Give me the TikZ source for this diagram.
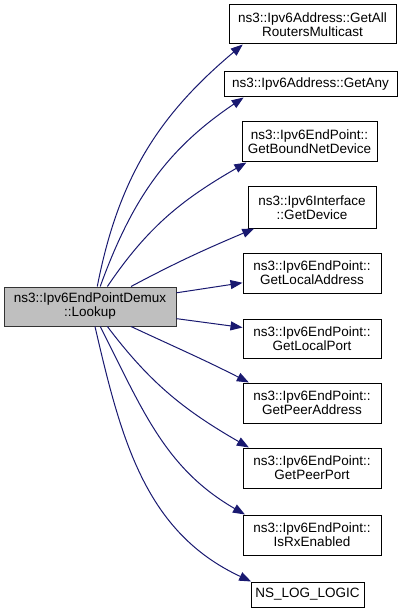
\documentclass[tikz,border=0pt]{standalone}
\usepackage{fontspec}
\setmainfont{Liberation Sans}
\usetikzlibrary{arrows.meta}
\definecolor{edgeblue}{HTML}{191970}
\definecolor{lookgray}{HTML}{BFBFBF}
\tikzset{
  fn/.style={draw=black,fill=white,line width=1pt,inner sep=0pt,align=center,
    minimum height=40pt,font=\fontsize{13.5}{14}\selectfont},
  call/.style={draw=edgeblue,line width=1pt,-{Triangle[length=12pt,width=9pt]}}
}
\begin{document}
\begin{tikzpicture}[x=1pt,y=-1pt]
\useasboundingbox (0,0) rectangle (405,612);
\node[fn,fill=lookgray,draw=black!80,minimum width=172pt,minimum height=39pt] (look) at (90,306.5)
  {ns3::Ipv6EndPointDemux\\::Lookup};
\node[fn,minimum width=167pt,minimum height=39pt] (allrm) at (312.5,24.5) {ns3::Ipv6Address::GetAll\\RoutersMulticast};
\node[fn,minimum width=173pt,minimum height=25pt] (any) at (310.5,84.5) {ns3::Ipv6Address::GetAny};
\node[fn,minimum width=135pt] (bound) at (309.5,142) {ns3::Ipv6EndPoint::\\GetBoundNetDevice};
\node[fn,minimum width=128pt,minimum height=41pt] (dev) at (312,207.5) {ns3::Ipv6Interface\\::GetDevice};
\node[fn,minimum width=138pt] (laddr) at (312,273) {ns3::Ipv6EndPoint::\\GetLocalAddress};
\node[fn,minimum width=138pt,minimum height=39pt] (lport) at (312,338.5) {ns3::Ipv6EndPoint::\\GetLocalPort};
\node[fn,minimum width=138pt] (paddr) at (312,403) {ns3::Ipv6EndPoint::\\GetPeerAddress};
\node[fn,minimum width=138pt] (pport) at (312,468) {ns3::Ipv6EndPoint::\\GetPeerPort};
\node[fn,minimum width=138pt] (rxen) at (312,535) {ns3::Ipv6EndPoint::\\IsRxEnabled};
\node[fn,minimum width=113pt,minimum height=25pt] (logic) at (307.5,594.5) {NS\_LOG\_LOGIC};
\draw[call] (look.70) to[out=79,in=220] (allrm.196);
\draw[call] (look.63) to[out=70,in=214] (any.191);
\draw[call] (look.49) to[out=56,in=210] (bound.198);
\draw[call] (look.26) to[out=28,in=203] (dev.200);
\draw[call] (look.9) -- (laddr.188);
\draw[call] (look.-8) -- (lport.171);
\draw[call] (look.-26) to[out=-25,in=153] (paddr.162);
\draw[call] (look.-49) to[out=-53,in=150] (pport.162);
\draw[call] (look.-63) to[out=-63,in=150] (rxen.163);
\draw[call] (look.-76) to[out=-77,in=155] (logic.167);
\end{tikzpicture}
\end{document}
